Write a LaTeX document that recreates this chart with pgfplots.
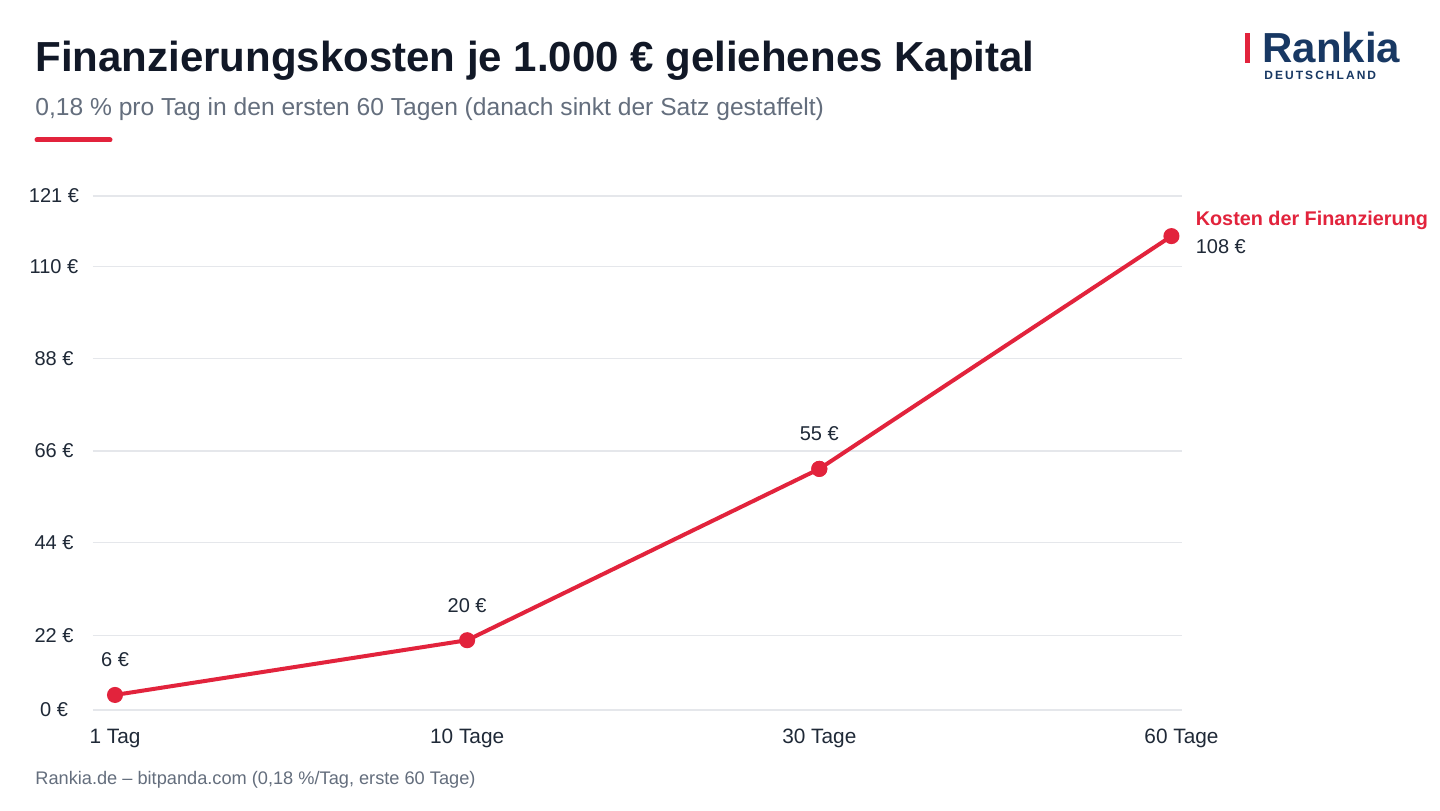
\documentclass[border=0pt]{standalone}
\usepackage{pgfplots}
\pgfplotsset{compat=1.18}
\usepackage{fontspec}
\setmainfont{Liberation Sans}
\definecolor{cred}{RGB}{226,35,60}
\definecolor{cnavy}{RGB}{24,56,99}
\definecolor{ctitle}{RGB}{17,24,39}
\definecolor{ctext}{RGB}{31,41,55}
\definecolor{cgray}{RGB}{100,110,125}
\definecolor{cgrid}{RGB}{229,231,235}
\begin{document}
\begin{tikzpicture}
\useasboundingbox[fill=white] (0pt,0pt) rectangle (720pt,405pt);
% title block
\node[anchor=base west,inner sep=0,text=ctitle,font=\fontsize{21}{25}\selectfont\bfseries] at (17.5pt,369pt) {Finanzierungskosten je 1.000 € geliehenes Kapital};
\node[anchor=base west,inner sep=0,text=cgray,font=\fontsize{12.3}{14}\selectfont] at (17.5pt,347pt) {0,18 \% pro Tag in den ersten 60 Tagen (danach sinkt der Satz gestaffelt)};
\draw[cred,line width=2.5pt,line cap=round] (18.5pt,335pt) -- (55pt,335pt);
% logo
\fill[cred] (622.5pt,373.5pt) rectangle (625pt,388.5pt);
\node[anchor=base west,inner sep=0,text=cnavy,font=\fontsize{21}{25}\selectfont\bfseries] at (631pt,373.5pt) {Rankia};
\node[anchor=base west,inner sep=0,text=cnavy,font=\fontsize{6}{7}\selectfont\bfseries\addfontfeatures{LetterSpace=17}] at (632pt,365pt) {DEUTSCHLAND};
% source
\node[anchor=base west,inner sep=0,text=cgray,font=\fontsize{9.1}{11}\selectfont] at (17.5pt,13pt) {Rankia.de – bitpanda.com (0,18 \%/Tag, erste 60 Tage)};
\begin{axis}[
  at={(46.5pt,50pt)}, anchor=south west,
  width=544.5pt, height=257pt, scale only axis,
  xmin=-0.0625, xmax=3.03, ymin=0, ymax=123,
  axis line style={draw=none},
  xtick={0,1,2,3}, xticklabels={1 Tag,10 Tage,30 Tage,\hspace*{10pt}60 Tage},
  ytick={0,17.9,40,62,84.2,106.2,123},
  yticklabels={0 €,22 €,44 €,66 €,88 €,110 €,121 €},
  ymajorgrids, grid style={cgrid,line width=0.6pt},
  major tick length=0,
  tick label style={font=\fontsize{10}{12}\selectfont, text=ctext},
  yticklabel style={anchor=center, xshift=-19.5pt},
  xticklabel style={anchor=center, yshift=-14pt, font=\fontsize{10.4}{12}\selectfont},
  clip=false,
  nodes near coords,
  point meta=explicit symbolic,
  every node near coord/.append style={anchor=center, yshift=17.5pt, font=\fontsize{10}{12}\selectfont, text=ctext},
]
\addplot[cred, line width=2pt, mark=*, mark size=3pt, mark options={fill=cred,draw=cred}] coordinates {
 (0,3.6) [6 €]
 (1,16.7) [20 €]
 (2,57.7) [55 €]
};
\addplot[cred, line width=2pt, mark=*, mark size=3pt, mark options={fill=cred,draw=cred}, forget plot] coordinates {
 (2,57.7) (3,113.4)
};
\node[anchor=base west,inner sep=0,text=cred,font=\fontsize{9.9}{11}\selectfont\bfseries] at (axis cs:3,113.4) [xshift=12pt,yshift=5.5pt] {Kosten der Finanzierung};
\node[anchor=base west,inner sep=0,text=ctext,font=\fontsize{10}{12}\selectfont] at (axis cs:3,113.4) [xshift=12pt,yshift=-8.5pt] {108 €};
\end{axis}
\end{tikzpicture}
\end{document}
